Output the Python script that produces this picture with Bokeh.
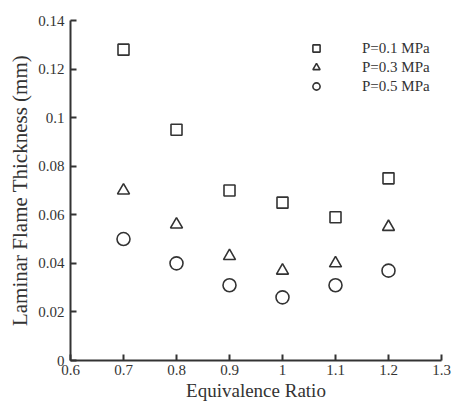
from bokeh.plotting import figure
from bokeh.models import FixedTicker, Legend, LegendItem, Range1d, NumeralTickFormatter
from bokeh.embed import file_html
from bokeh.resources import INLINE

phi = [0.7, 0.8, 0.9, 1.0, 1.1, 1.2]
p01 = [0.128, 0.095, 0.070, 0.065, 0.059, 0.075]
p03 = [0.070, 0.056, 0.043, 0.037, 0.040, 0.055]
p05 = [0.050, 0.040, 0.031, 0.026, 0.031, 0.037]
labels = ["P=0.1 MPa", "P=0.3 MPa", "P=0.5 MPa"]
xticks = [0.6, 0.7, 0.8, 0.9, 1.0, 1.1, 1.2, 1.3]
yticks = [0, 0.02, 0.04, 0.06, 0.08, 0.10, 0.12, 0.14]

FONT = "Liberation Serif"
C = "#333333"

p = figure(width=452, height=404, output_backend="svg", toolbar_location=None,
           x_range=Range1d(0.6, 1.3), y_range=Range1d(0, 0.14),
           min_border_left=70, min_border_right=11, min_border_top=20, min_border_bottom=44)
p.outline_line_color = None
p.grid.visible = False
p.background_fill_color = "white"

r1 = p.scatter(phi, p01, marker="square", size=11, fill_color=None, line_color=C, line_width=1.6)
r2 = p.scatter(phi, p03, marker="triangle", size=12, fill_color=None, line_color=C, line_width=1.6)
r3 = p.scatter(phi, p05, marker="circle", size=13, fill_color=None, line_color=C, line_width=1.6)

for ax in (p.xaxis[0], p.yaxis[0]):
    ax.axis_line_width = 2
    ax.axis_line_color = C
    ax.major_tick_line_color = C
    ax.major_tick_line_width = 2
    ax.major_tick_in = 6
    ax.major_tick_out = 0
    ax.minor_tick_line_color = None
    ax.major_label_text_font = FONT
    ax.major_label_text_font_size = "15px"
    ax.major_label_text_color = C
    ax.axis_label_text_font = FONT
    ax.axis_label_text_font_style = "normal"
    ax.axis_label_text_color = C

p.xaxis.ticker = FixedTicker(ticks=xticks)
p.xaxis.formatter = NumeralTickFormatter(format="0.[0]")
p.yaxis.ticker = FixedTicker(ticks=yticks)
p.yaxis.formatter = NumeralTickFormatter(format="0.[00]")
p.xaxis.axis_label = "Equivalence Ratio"
p.yaxis.axis_label = "Laminar Flame Thickness (mm)"
p.xaxis.axis_label_text_font_size = "19px"
p.yaxis.axis_label_text_font_size = "21px"
p.xaxis.major_label_standoff = 4
p.xaxis.axis_label_standoff = 2
p.yaxis.major_label_standoff = 6
p.yaxis.axis_label_standoff = 3

legend = Legend(items=[LegendItem(label=labels[0], renderers=[r1]),
                       LegendItem(label=labels[1], renderers=[r2]),
                       LegendItem(label=labels[2], renderers=[r3])],
                location=(236, 265))
legend.background_fill_alpha = 0
legend.border_line_color = None
legend.padding = 0
legend.margin = 0
legend.spacing = 1
legend.glyph_width = 20
legend.glyph_height = 18
legend.label_height = 18
legend.label_standoff = 36
legend.label_text_font = FONT
legend.label_text_font_size = "15px"
legend.label_text_color = C
p.add_layout(legend, "center")

open("out.html", "w").write(file_html(p, INLINE))
